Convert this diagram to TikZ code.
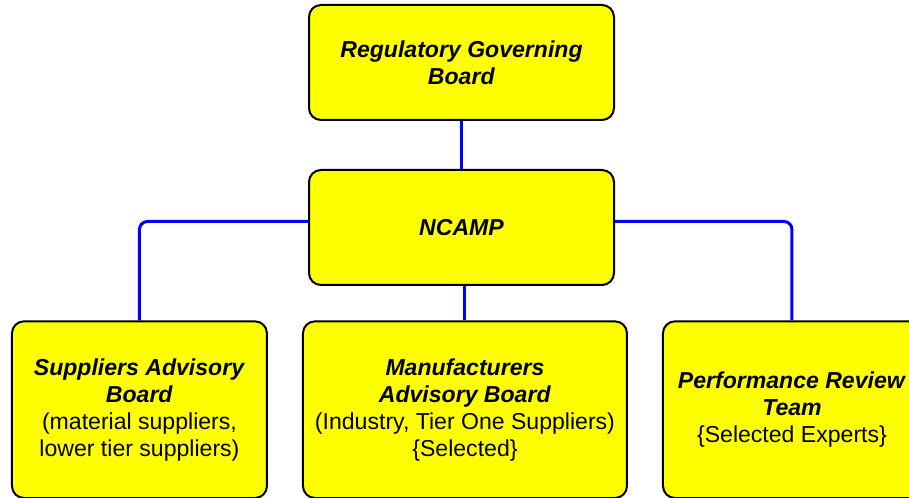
\documentclass[tikz,border=0pt]{standalone}
\usepackage{fontspec}
\setmainfont{Liberation Sans}
\usetikzlibrary{positioning}

\definecolor{boardyellow}{RGB}{255,255,0}
\definecolor{linkblue}{RGB}{0,0,255}
\newcommand{\boardname}[1]{\textbf{\textit{#1}}}

\begin{document}
\begin{tikzpicture}[x=0.75pt,y=-0.75pt]
\useasboundingbox (0,0) rectangle (909,498);
\clip (0,0) rectangle (909,498);

\begin{scope}[every node/.style={draw,line width=1.5pt,fill=boardyellow,rounded corners=9pt,
                                 align=center,inner sep=0pt,
                                 font=\fontsize{17.3pt}{20.3pt}\selectfont}]
    \node[minimum width=228.75pt,minimum height=86.25pt] (rgb) at (461.5,62.5)
        {\boardname{Regulatory Governing}\\\boardname{Board}};
    \node[minimum width=228.75pt,minimum height=86.25pt,below=36pt of {rgb}] (ncamp)
        {\boardname{NCAMP}};
    \node[minimum width=243pt,minimum height=132.5pt,below=25.75pt of {ncamp},xshift=2.6pt] (mab)
        {\boardname{Manufacturers}\\\boardname{Advisory Board}\\(Industry, Tier One Suppliers)\\\{Selected\}};
    \node[minimum width=191.25pt,minimum height=132.5pt,left=25.5pt of {mab}] (sab)
        {\boardname{Suppliers Advisory}\\\boardname{Board}\\(material suppliers,\\lower tier suppliers)};
    \node[minimum width=193.5pt,minimum height=132.5pt,right=25.5pt of {mab}] (prt)
        {\boardname{Performance Review}\\\boardname{Team}\\\{Selected Experts\}};
\end{scope}

\begin{scope}[every edge/.style={draw=linkblue,line width=2.25pt,rounded corners=6pt}]
    \path (rgb.south)                  edge (ncamp.north);
    \path (ncamp.south -| mab.north)   edge (mab.north);
    \path ([yshift=4.5pt]ncamp.west)   edge[to path={-| (\tikztotarget)}] (sab.north);
    \path ([yshift=4.5pt]ncamp.east)   edge[to path={-| (\tikztotarget)}] (prt.north);
\end{scope}
\end{tikzpicture}
\end{document}
